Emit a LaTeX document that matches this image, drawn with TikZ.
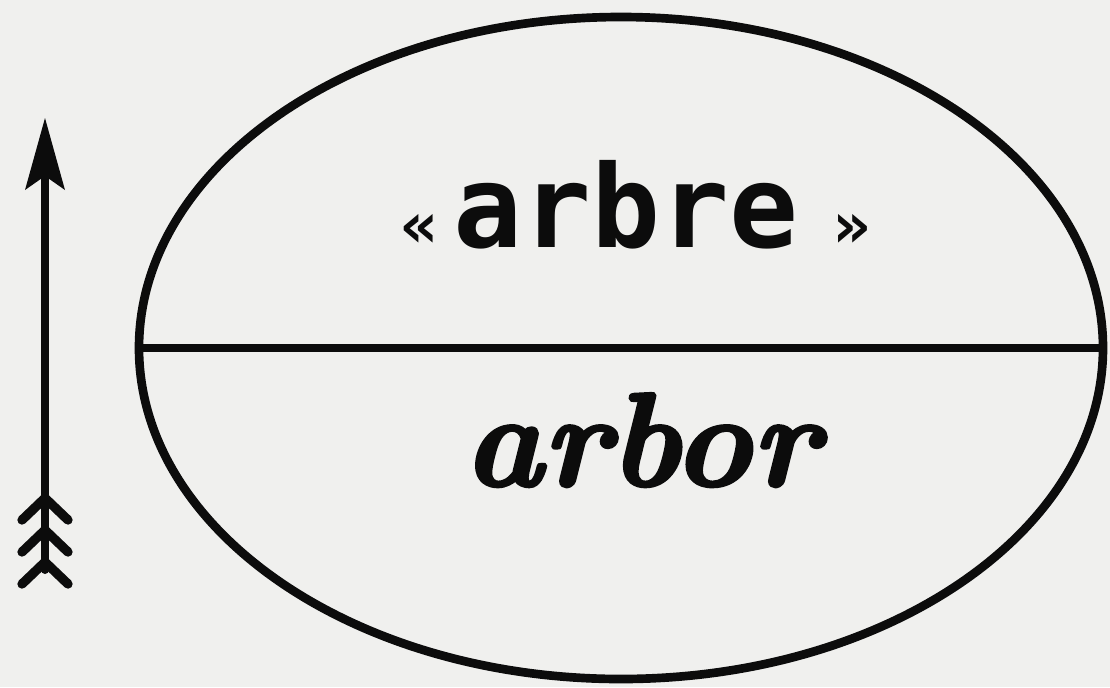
\documentclass[tikz,border=0pt]{standalone}
\usepackage{fontspec}
\newfontfamily\monobold{DejaVu Sans Mono Bold}
\newfontfamily\itbold{lmroman10-bolditalic.otf}[FakeBold=2.2]
\definecolor{paper}{RGB}{240,240,238}
\definecolor{ink}{RGB}{12,12,12}
\begin{document}
\begin{tikzpicture}[x=0.75pt,y=-0.75pt,
  stroke/.style={draw=ink,line width=6.5pt},
  thinstroke/.style={draw=ink,line width=4pt,line cap=round,line join=round},
  label/.style={inner sep=0pt,text=ink}]
\fill[paper] (0,0) rectangle (1110,687);
\useasboundingbox (0,0) rectangle (1110,687);
% ellipse and bar
\coordinate (c) at (621,348);
\draw[stroke] (c) ellipse [x radius=482, y radius=331];
\coordinate (bl) at (140,348);
\coordinate (br) at (1102,348);
\draw[stroke] (bl) -- (br);
% texts
\node[label] (top) at (636,205) {\fontsize{86}{90}\selectfont\monobold {\fontsize{48}{50}\selectfont«}\hspace{0.12em}arbre\hspace{0.3em}{\fontsize{48}{50}\selectfont»}};
\node[label] (bot) at (641,440) {\fontsize{100}{104}\selectfont\itbold arbor};
% arrow
\coordinate (tip) at (45,118);
\coordinate (tail) at (45,585);
\draw[thinstroke,line width=6pt] (45,170) -- (45,570);
\fill[ink] (tip) -- (65,190) -- (45,176) -- (25,190) -- cycle;
\foreach \y in {498,530,562}{
  \draw[thinstroke,line width=7pt] (22,\y+22) -- (45,\y) -- (68,\y+22);
}
\end{tikzpicture}
\end{document}
